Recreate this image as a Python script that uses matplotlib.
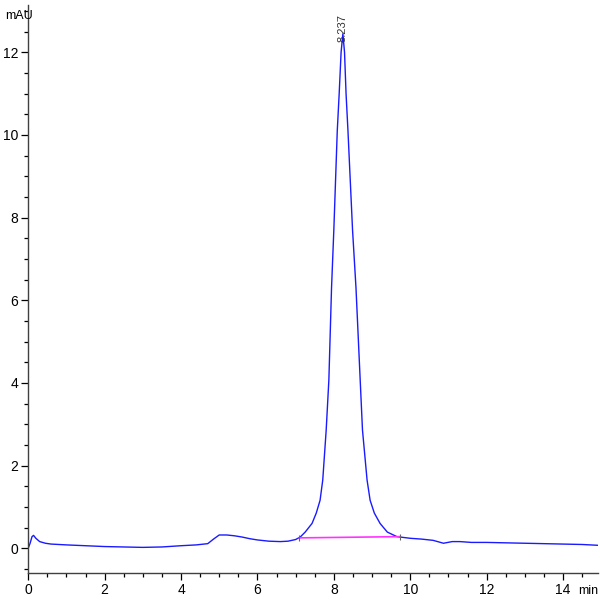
import numpy as np
import matplotlib
matplotlib.use("Agg")
import matplotlib.pyplot as plt
from matplotlib.ticker import MultipleLocator

plt.rcParams["font.family"] = ["Liberation Sans", "DejaVu Sans"]

# chromatogram trace (min, mAU)
time_min = [0.0, 0.05, 0.10, 0.14, 0.20, 0.30, 0.45, 0.60, 0.80, 1.0, 1.5, 2.0,
            2.5, 3.0, 3.5, 4.0, 4.4, 4.7, 4.85, 5.0, 5.2, 5.4, 5.6, 5.8, 6.0,
            6.3, 6.6, 6.8, 7.0, 7.12, 7.25, 7.43, 7.54, 7.64, 7.71, 7.80, 7.87,
            7.94, 8.00, 8.03, 8.09, 8.14, 8.19, 8.237, 8.28, 8.32, 8.37, 8.45,
            8.49, 8.58, 8.69, 8.75, 8.87, 8.95, 9.06, 9.21, 9.40, 9.65, 10.0,
            10.3, 10.6, 10.87, 11.1, 11.3, 11.6, 12.0, 12.5, 13.0, 13.5, 14.0,
            14.5, 14.92]
signal_mau = [0.0, 0.12, 0.28, 0.31, 0.24, 0.16, 0.12, 0.10, 0.09, 0.08, 0.06,
              0.04, 0.03, 0.02, 0.03, 0.06, 0.08, 0.11, 0.22, 0.32, 0.32, 0.30,
              0.27, 0.23, 0.20, 0.17, 0.16, 0.17, 0.21, 0.27, 0.39, 0.60, 0.85,
              1.16, 1.65, 2.86, 4.07, 6.30, 7.70, 8.50, 10.10, 11.00, 12.00,
              12.45, 12.00, 11.00, 10.10, 8.50, 7.70, 6.30, 4.07, 2.86, 1.65,
              1.16, 0.85, 0.60, 0.39, 0.28, 0.24, 0.22, 0.19, 0.12, 0.16, 0.16,
              0.14, 0.14, 0.13, 0.12, 0.11, 0.10, 0.09, 0.07]

# integration baseline under the peak
base_t = [7.10, 9.74]
base_y = [0.25, 0.28]
peak_rt = 8.237
peak_label = "8.237"

fig = plt.figure(figsize=(6, 6), dpi=100)
ax = fig.add_axes([0.047, 0.045, 0.95, 0.947])

ax.plot(time_min, signal_mau, color="#1a1aff", lw=1.0)
ax.plot(base_t, base_y, color="#ff33ff", lw=1.2)
ax.plot(base_t, base_y, ls="none", marker="|", ms=5, color="0.4", mew=0.8)
ax.text(peak_rt, 12.25, peak_label, rotation=90, ha="center", va="bottom",
        fontsize=8, color="0.2")

ax.set_xlim(0, 14.92)
ax.set_ylim(-0.6, 13.15)
ax.xaxis.set_major_locator(MultipleLocator(2))
ax.xaxis.set_minor_locator(MultipleLocator(0.5))
ax.yaxis.set_major_locator(MultipleLocator(2))
ax.yaxis.set_minor_locator(MultipleLocator(0.5))
ax.tick_params(which="major", length=5, width=0.9, labelsize=10, pad=2)
ax.tick_params(which="minor", length=3, width=0.9)
for s in ["top", "right"]:
    ax.spines[s].set_visible(False)
for s in ["left", "bottom"]:
    ax.spines[s].set_linewidth(1.0)
    ax.spines[s].set_color("0.25")

fig.text(0.008, 0.973, "mAU", fontsize=9, ha="left", va="center")
fig.text(0.964, 0.015, "min", fontsize=9, ha="left", va="center")

fig.savefig("out.png", dpi=100)
